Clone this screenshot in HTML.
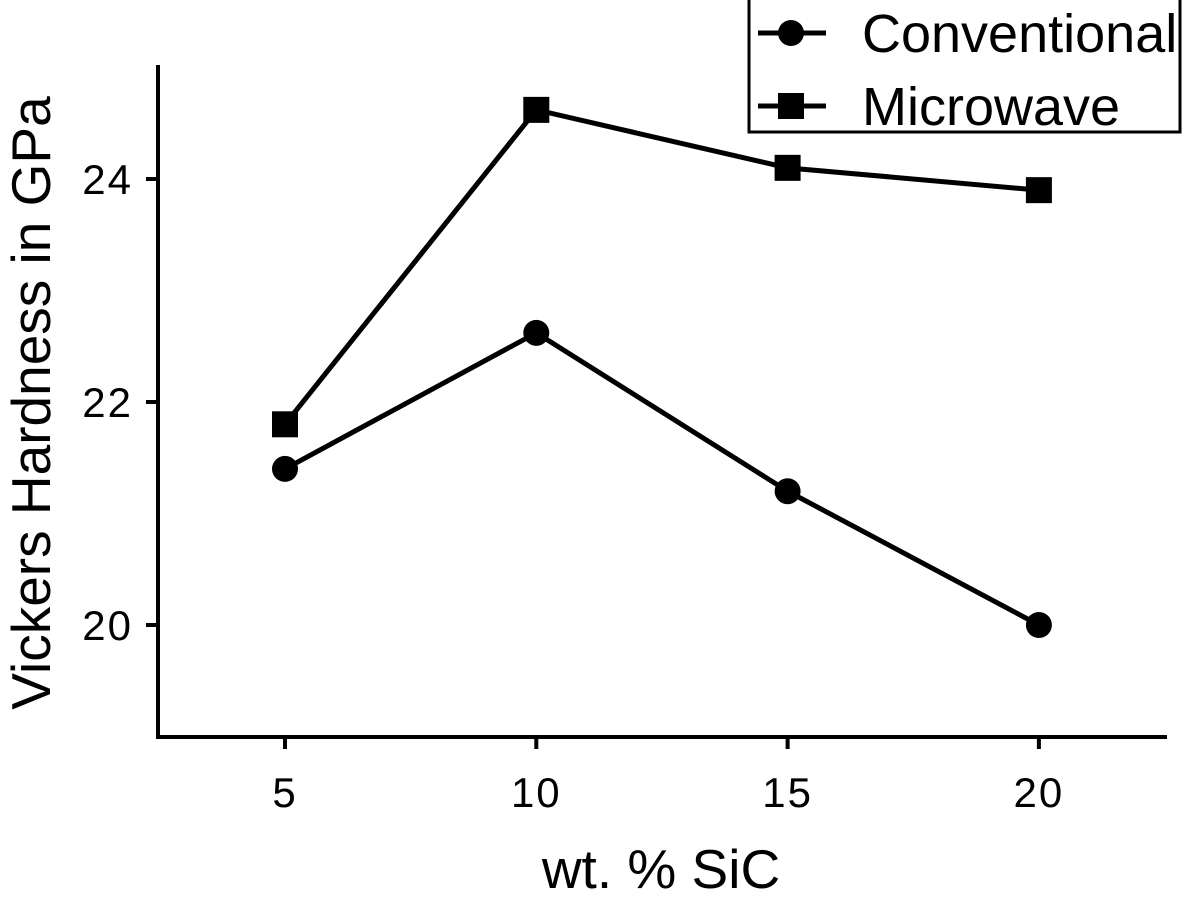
<!DOCTYPE html>
<html><head><meta charset="utf-8"><style>
html,body{margin:0;padding:0;background:#fff;}
svg{display:block;font-family:"Liberation Sans",Arial,sans-serif;}
</style></head><body>
<svg id="chart" width="1187" height="900" viewBox="0 0 1187 900"></svg>
<script>
const categories=[5,10,15,20];
const conventional=[21.4,22.62,21.2,20.0];
const microwave=[21.8,24.62,24.1,23.9];
const yTicks=[20,22,24];
const NS="http://www.w3.org/2000/svg";
const svg=document.getElementById('chart');
function xS(v){return 285+(v-5)*(251.3/5);}
function yS(v){return 625-(v-20)*111.5;}
function mk(t,a,p){const e=document.createElementNS(NS,t);for(const k in a)e.setAttribute(k,a[k]);(p||svg).appendChild(e);return e;}
let ax=mk('line',{x1:158,y1:65,x2:158,y2:738,stroke:'#000','stroke-width':4});


let bx=mk('line',{x1:156,y1:737,x2:1167,y2:737,stroke:'#000','stroke-width':4});


yTicks.forEach(v=>{
 const y=yS(v);
 mk('line',{x1:146,y1:y,x2:158,y2:y,stroke:'#000','stroke-width':4});
 const t=mk('text',{x:133,y:y+15,'text-anchor':'end','font-size':42,'letter-spacing':2});
 t.textContent=v;
 
 
});
categories.forEach(v=>{
 const x=xS(v);
 mk('line',{x1:x,y1:737,x2:x,y2:749,stroke:'#000','stroke-width':4});
 const t=mk('text',{x:x,y:807,'text-anchor':'middle','font-size':42,'letter-spacing':2});
 t.textContent=v;
 
 
});
let xt=mk('text',{x:661,y:888,'text-anchor':'middle','font-size':55});
xt.textContent='wt. % SiC';


let yt=mk('text',{x:0,y:0,'text-anchor':'middle','font-size':55,transform:'translate(50,403) rotate(-90)'});
yt.textContent='Vickers Hardness in GPa';


function series(vals,shape,name){
 const g=mk('g',{});
 
 
 mk('polyline',{points:vals.map((v,i)=>xS(categories[i])+','+yS(v)).join(' '),fill:'none',stroke:'#000','stroke-width':5},g);
 vals.forEach((v,i)=>{
  const x=xS(categories[i]),y=yS(v);
  let m;
  if(shape==='c')m=mk('circle',{cx:x,cy:y,r:13,fill:'#000'},g);
  else m=mk('rect',{x:x-13,y:y-13,width:26,height:26,fill:'#000'},g);
  
  
 });
}
series(conventional,'c','conventional-series');
series(microwave,'s','microwave-series');
const lg=mk('g',{});


mk('rect',{x:749,y:-2,width:431,height:134,fill:'#fff',stroke:'#000','stroke-width':3},lg);
mk('line',{x1:758,y1:33,x2:826,y2:33,stroke:'#000','stroke-width':5},lg);
mk('circle',{cx:791,cy:33,r:13,fill:'#000'},lg);
let l1=mk('text',{x:862,y:52,'font-size':54},lg);l1.textContent='Conventional';


mk('line',{x1:758,y1:106,x2:826,y2:106,stroke:'#000','stroke-width':5},lg);
mk('rect',{x:778,y:93,width:26,height:26,fill:'#000'},lg);
let l2=mk('text',{x:862,y:125,'font-size':54},lg);l2.textContent='Microwave';


</script>
</body></html>
